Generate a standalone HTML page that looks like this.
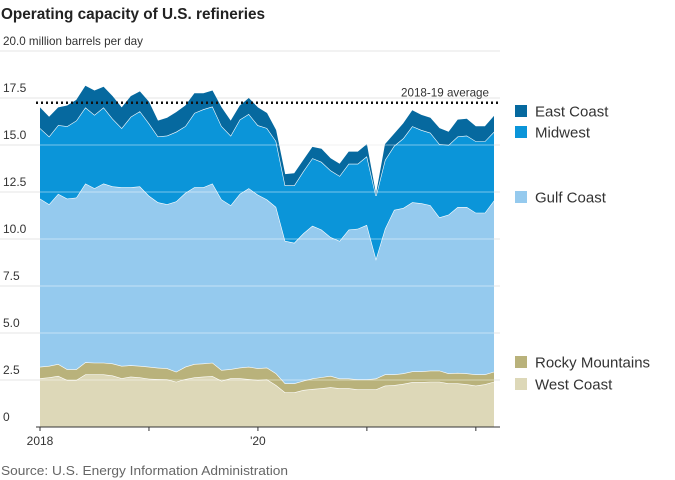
<!DOCTYPE html>
<html><head><meta charset="utf-8"><style>
html,body{margin:0;padding:0;background:#fff;}
svg{display:block;font-family:"Liberation Sans",sans-serif;}
</style></head><body>
<svg id="chart" width="675" height="480" viewBox="0 0 675 480" xmlns="http://www.w3.org/2000/svg">
<text x="1" y="19" font-size="16" font-weight="bold" fill="#222" textLength="264" lengthAdjust="spacingAndGlyphs">Operating capacity of U.S. refineries</text>
<g id="grid"></g>
<g id="areas"></g>
<g id="overlay"></g>
<text x="1" y="475" font-size="13" fill="#666" textLength="287" lengthAdjust="spacingAndGlyphs">Source: U.S. Energy Information Administration</text>
</svg>
<script>
const months = 51; // Jan 2018 .. Mar 2022
const westCoast = [2.59,2.64,2.72,2.5,2.5,2.8,2.8,2.8,2.74,2.59,2.68,2.64,2.57,2.55,2.53,2.41,2.55,2.64,2.68,2.71,2.46,2.59,2.59,2.55,2.5,2.53,2.23,1.84,1.84,1.97,2.02,2.06,2.11,2.06,2.06,2.0,2.0,2.0,2.2,2.23,2.29,2.39,2.39,2.41,2.41,2.32,2.32,2.27,2.2,2.27,2.41];
const rockyTop = [3.2,3.25,3.35,3.07,3.07,3.44,3.42,3.42,3.38,3.25,3.28,3.25,3.2,3.15,3.12,2.94,3.2,3.35,3.38,3.42,3.03,3.08,3.16,3.2,3.12,3.16,2.85,2.32,2.32,2.46,2.58,2.65,2.72,2.58,2.58,2.53,2.53,2.58,2.8,2.8,2.85,2.96,2.96,3.0,3.0,2.85,2.88,2.85,2.8,2.8,2.94];
const gulfTop = [12.15,11.85,12.4,12.15,12.2,12.95,12.7,12.95,12.8,12.75,12.75,12.8,12.3,11.95,11.85,12.0,12.45,12.75,12.75,12.95,12.1,11.8,12.4,12.7,12.35,12.1,11.7,9.9,9.8,10.3,10.7,10.5,10.1,9.9,10.5,10.55,10.75,8.95,10.55,11.55,11.65,11.95,11.9,11.8,11.15,11.3,11.7,11.7,11.4,11.4,12.05];
const midwestTop = [15.9,15.45,16.06,16.0,16.3,17.0,16.6,17.0,16.4,15.9,16.5,16.8,16.15,15.45,15.5,15.7,16.0,16.7,16.9,17.05,16.0,15.5,16.35,16.65,16.05,15.9,15.2,12.85,12.85,13.6,14.3,14.1,13.65,13.35,14.0,14.0,14.4,12.3,14.2,14.95,15.35,16.0,15.8,15.65,15.05,15.0,15.45,15.5,15.2,15.2,15.7];
const eastTop = [17.0,16.5,17.0,17.1,17.4,18.15,17.9,18.1,17.6,17.0,17.6,17.85,17.3,16.3,16.45,16.75,17.1,17.75,17.75,17.9,17.0,16.3,17.1,17.5,17.0,16.7,15.8,13.45,13.5,14.2,14.9,14.8,14.3,14.0,14.65,14.65,15.05,12.4,15.05,15.6,16.15,16.85,16.6,16.45,15.9,15.7,16.35,16.4,16.0,16.0,16.55];
const average = 17.25;
const yTicks = [0,2.5,5,7.5,10,12.5,15,17.5,20];
const yTickLabels = ["0","2.5","5.0","7.5","10.0","12.5","15.0","17.5","20.0 million barrels per day"];
const xTickMonths = [0,12,24,36,48];
const xTickLabels = ["2018","","'20","",""];
const seriesNames = ["West Coast","Rocky Mountains","Gulf Coast","Midwest","East Coast"];

const NS="http://www.w3.org/2000/svg";
const X0=40, DX=9.08, Y0=427, KY=18.8;
const xs=i=>X0+i*DX, ys=v=>Y0-v*KY;
function mk(t,a,parent){const e=document.createElementNS(NS,t);for(const k in a)e.setAttribute(k,a[k]);parent.appendChild(e);return e;}
const grid=document.getElementById('grid'),areas=document.getElementById('areas'),ov=document.getElementById('overlay');
yTicks.forEach((v,k)=>{
  const gl=mk('line',{x1:0,x2:500,y1:ys(v),y2:ys(v),stroke:k==0?'#fff':'#e6e6e6','stroke-width':1},grid);
  
  
  const t=mk('text',{x:3,y:ys(v)-6,'font-size':12,fill:'#333'},grid);
  if(k==8){t.setAttribute('textLength',140);t.setAttribute('lengthAdjust','spacingAndGlyphs');}
  t.textContent=yTickLabels[k];
  
  
});
const layers=[[null,westCoast,'#ddd8b8'],[westCoast,rockyTop,'#b9b27b'],[rockyTop,gulfTop,'#95caee'],[gulfTop,midwestTop,'#0b95d9'],[midwestTop,eastTop,'#06699f']];
const names=['west-coast-area','rocky-mountains-area','gulf-coast-area','midwest-area','east-coast-area'];
layers.forEach((L,k)=>{
  const [lo,hi,c]=L;let d='';
  for(let i=0;i<months;i++)d+=(i?'L':'M')+xs(i).toFixed(1)+','+ys(hi[i]).toFixed(1);
  for(let i=months-1;i>=0;i--)d+='L'+xs(i).toFixed(1)+','+ys(lo?lo[i]:0).toFixed(1);
  const p=mk('path',{d:d+'Z',fill:c},areas);
  
  
  let ld='';for(let i=0;i<months;i++)ld+=(i?'L':'M')+xs(i).toFixed(1)+','+ys(hi[i]).toFixed(1);
  const l=mk('path',{d:ld,fill:'none',stroke:'#fff','stroke-width':k==4?0:1.2},areas);
  
  
});
// gridlines over areas (faint)
[2.5,5,7.5,10,12.5,15].forEach(v=>{
  const g=mk('line',{x1:X0,x2:xs(months-1),y1:ys(v),y2:ys(v),stroke:'#fff','stroke-opacity':0.45,'stroke-width':1},ov);
  
  
});
const avg=mk('line',{x1:36,x2:500,y1:ys(average),y2:ys(average),stroke:'#111','stroke-width':2.5,'stroke-dasharray':'2 3'},ov);


const at=mk('text',{x:401,y:ys(average)-6,'font-size':12,fill:'#333',textLength:88,lengthAdjust:'spacingAndGlyphs'},ov);
at.textContent='2018-19 average';


const ax=mk('line',{x1:36,x2:500,y1:Y0,y2:Y0,stroke:'#333','stroke-width':1},ov);


xTickMonths.forEach((m,k)=>{
  const tk=mk('line',{x1:xs(m),x2:xs(m),y1:Y0,y2:Y0+4,stroke:'#333'},ov);
  
  
  if(xTickLabels[k]){const t=mk('text',{x:xs(m),y:445,'font-size':12,fill:'#333','text-anchor':'middle'},ov);t.textContent=xTickLabels[k];
  
  }
});
const leg=[['East Coast','#06699f',111],['Midwest','#0b95d9',132],['Gulf Coast','#95caee',197],['Rocky Mountains','#b9b27b',362],['West Coast','#ddd8b8',384]];
leg.forEach(L=>{
  const g=mk('g',{},ov);
  
  
  mk('rect',{x:515,y:L[2]-6,width:12,height:12,fill:L[1]},g);
  const t=mk('text',{x:535,y:L[2]+5.5,'font-size':15,fill:'#333'},g);t.textContent=L[0];
});
</script>
</body></html>
